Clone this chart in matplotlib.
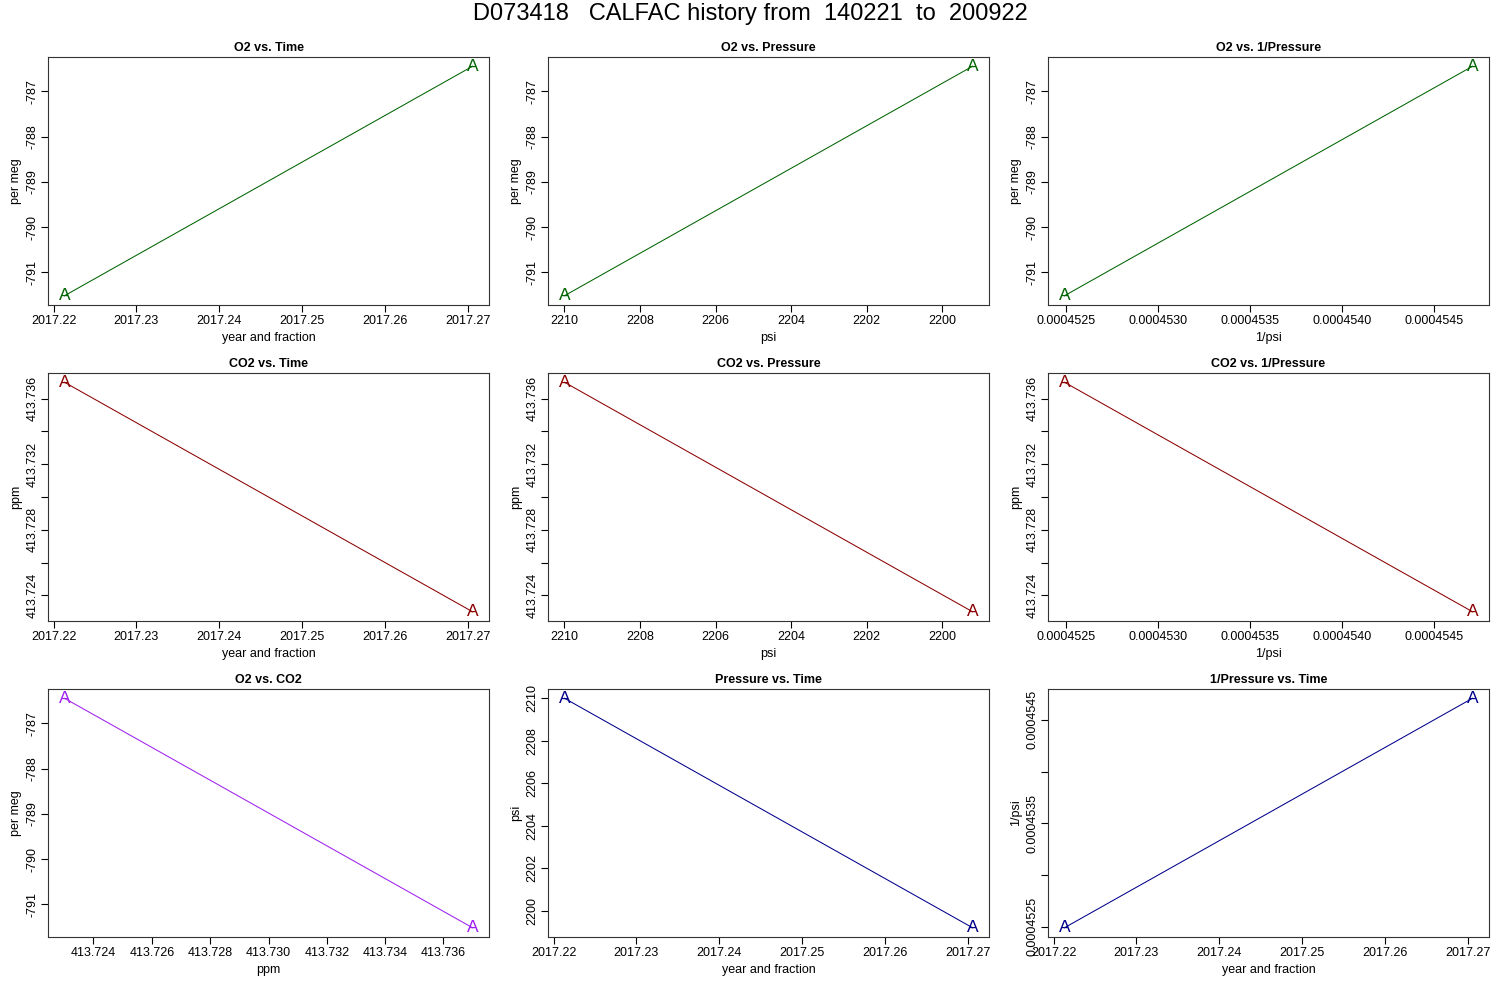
import matplotlib
matplotlib.use("Agg")
import matplotlib.pyplot as plt
import numpy as np

plt.rcParams["font.family"] = ["Liberation Sans", "DejaVu Sans"]

# two calibration points
time_yr = [2017.2213, 2017.2706]
o2_permeg = [-791.52, -786.44]
co2_ppm = [413.7370, 413.7230]
psi = [2210.0, 2199.2]
inv_psi = [0.00045249, 0.00045471]

time_ticks = [2017.22, 2017.23, 2017.24, 2017.25, 2017.26, 2017.27]
o2_ticks = [-791, -790, -789, -788, -787]
co2_ticks = [413.724, 413.726, 413.728, 413.730, 413.732, 413.734, 413.736]
psi_ticks = [2200, 2202, 2204, 2206, 2208, 2210]
inv_ticks = [0.0004525, 0.0004530, 0.0004535, 0.0004540, 0.0004545]

GREEN = "#006400"
RED = "#8B0000"
PURPLE = "#A020F0"
BLUE = "#00008B"

W, H = 1500, 1000
COL_X = [48, 548, 1048]
ROW_Y = [57, 373, 689]
AX_W, AX_H = 441, 248


def _lim(vals, reverse=False):
    lo, hi = min(vals), max(vals)
    pad = (hi - lo) * 0.04
    return (hi + pad, lo - pad) if reverse else (lo - pad, hi + pad)


def _fmt(ticks, fmt, every_other=False):
    # R drops labels that would collide; keep only every second one then
    labels = [fmt % t for t in ticks]
    if every_other:
        labels = [l if i % 2 == 0 else "" for i, l in enumerate(labels)]
    return labels


def panel(col, row, x, y, color, title, xlabel, ylabel,
          xt, xfmt, yt, yfmt, xrev=False, yskip=False):
    left = COL_X[col] / W
    bottom = 1 - (ROW_Y[row] + AX_H) / H
    ax = fig.add_axes([left, bottom, AX_W / W, AX_H / H])
    ax.plot(x, y, color=color, lw=0.75)
    for xi, yi in zip(x, y):
        ax.text(xi, yi, "A", color=color, fontsize=12.5, ha="center", va="center")
    ax.set_xlim(*_lim(x, reverse=xrev))
    ax.set_ylim(*_lim(y))
    ax.set_xticks(xt)
    ax.set_xticklabels(_fmt(xt, xfmt))
    ax.set_yticks(yt)
    ax.set_yticklabels(_fmt(yt, yfmt, yskip), rotation=90, va="center")
    ax.tick_params(direction="out", length=5, width=0.8, labelsize=9, pad=2)
    ax.set_title(title, fontsize=9, fontweight="bold", pad=4)
    ax.set_xlabel(xlabel, fontsize=9, labelpad=4)
    ax.set_ylabel(ylabel, fontsize=9, labelpad=3)
    for s in ax.spines.values():
        s.set_linewidth(0.8)
        s.set_color("#333333")
    return ax


fig = plt.figure(figsize=(15, 10), dpi=100)
fig.text(0.5, 1 - 14 / H, "D073418   CALFAC history from  140221  to  200922",
         ha="center", va="center", fontsize=17)

panel(0, 0, time_yr, o2_permeg, GREEN, "O2 vs. Time", "year and fraction", "per meg",
      time_ticks, "%.2f", o2_ticks, "%d")
panel(1, 0, psi, o2_permeg, GREEN, "O2 vs. Pressure", "psi", "per meg",
      psi_ticks, "%d", o2_ticks, "%d", xrev=True)
panel(2, 0, inv_psi, o2_permeg, GREEN, "O2 vs. 1/Pressure", "1/psi", "per meg",
      inv_ticks, "%.7f", o2_ticks, "%d")

panel(0, 1, time_yr, co2_ppm, RED, "CO2 vs. Time", "year and fraction", "ppm",
      time_ticks, "%.2f", co2_ticks, "%.3f", yskip=True)
panel(1, 1, psi, co2_ppm, RED, "CO2 vs. Pressure", "psi", "ppm",
      psi_ticks, "%d", co2_ticks, "%.3f", xrev=True, yskip=True)
panel(2, 1, inv_psi, co2_ppm, RED, "CO2 vs. 1/Pressure", "1/psi", "ppm",
      inv_ticks, "%.7f", co2_ticks, "%.3f", yskip=True)

panel(0, 2, co2_ppm, o2_permeg, PURPLE, "O2 vs. CO2", "ppm", "per meg",
      co2_ticks, "%.3f", o2_ticks, "%d")
panel(1, 2, time_yr, psi, BLUE, "Pressure vs. Time", "year and fraction", "psi",
      time_ticks, "%.2f", psi_ticks, "%d")
panel(2, 2, time_yr, inv_psi, BLUE, "1/Pressure vs. Time", "year and fraction", "1/psi",
      time_ticks, "%.2f", inv_ticks, "%.7f", yskip=True)

fig.savefig("out.png", dpi=100)
